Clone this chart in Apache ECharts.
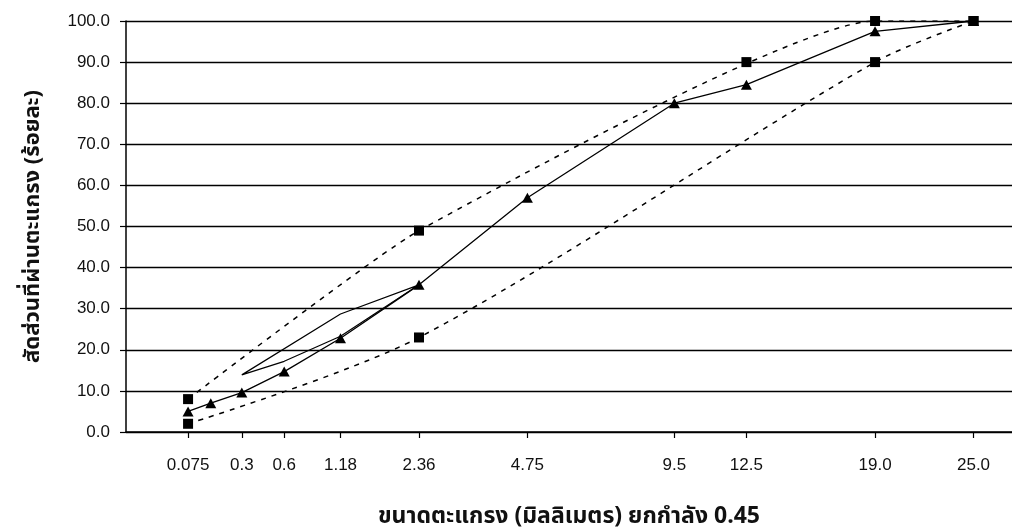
<!DOCTYPE html>
<html>
<head>
<meta charset="utf-8">
<script src="https://cdn.jsdelivr.net/npm/echarts@6/dist/echarts.min.js"></script>
<style>
html,body{margin:0;padding:0;background:#fff;}
#chart{width:1012px;height:531px;}
</style>
</head>
<body>
<div id="chart"></div>
<script>
// x axis: sieve size (mm) raised to the power 0.45
const POWER = 0.45;
const tickSizes  = [0.075, 0.3, 0.6, 1.18, 2.36, 4.75, 9.5, 12.5, 19, 25];
const tickLabels = ['0.075', '0.3', '0.6', '1.18', '2.36', '4.75', '9.5', '12.5', '19.0', '25.0'];

// gradation (solid line, triangles)
const gradSizes   = [0.075, 0.15, 0.3, 0.6, 1.18, 2.36, 4.75, 9.5, 12.5, 19, 25];
const gradPassing = [5, 7, 9.6, 14.7, 22.8, 35.8, 57, 80, 84.5, 97.5, 100];

// extra solid loop segment
const loopSizes   = [2.36, 1.18, 0.3, 0.6, 1.18, 2.36];
const loopPassing = [35.8, 28.7, 13.9, 17.2, 23.3, 35.8];

// control points (squares)
const upperCtrlSizes  = [0.075, 2.36, 12.5, 19, 25];
const upperCtrlValues = [8, 49, 90, 100, 100];
const lowerCtrlSizes  = [0.075, 2.36, 19, 25];
const lowerCtrlValues = [2, 23, 90, 100];

// dashed limit curves
const upperLimitSizes  = [0.075, 2.36, 19, 25];
const upperLimitValues = [8, 49, 100, 100];
const lowerLimitSizes  = [0.075, 2.36, 19, 25];
const lowerLimitValues = [2, 23, 90, 100];

const p = s => Math.pow(s, POWER);
const pair = (xs, ys) => xs.map((x, i) => [p(x), ys[i]]);
const tickPos = tickSizes.map(p);

const FONT = 'Liberation Sans, Arial, sans-serif';
const THAI = 'Noto Sans Thai, Loma, Garuda, Norasi, Tlwg Typo, sans-serif';

const chart = echarts.init(document.getElementById('chart'), null, {renderer: 'canvas'});
chart.setOption({
  animation: false,
  backgroundColor: '#ffffff',
  grid: {left: 126, right: 0, top: 21, bottom: 99, outerBoundsMode: 'none', containLabel: false},
  xAxis: {
    type: 'value',
    min: 0,
    max: 4.45,
    name: 'ขนาดตะแกรง (มิลลิเมตร) ยกกำลัง 0.45',
    nameLocation: 'middle',
    nameGap: 75,
    nameTextStyle: {fontFamily: THAI, fontWeight: 'bold', fontSize: 23, color: '#111'},
    axisLine: {lineStyle: {color: '#000', width: 1.5}},
    axisTick: {show: true, length: 6, lineStyle: {color: '#000', width: 1.2}, customValues: tickPos},
    axisLabel: {
      customValues: tickPos,
      margin: 25,
      fontSize: 17,
      fontFamily: FONT,
      color: '#111',
      formatter: v => {
        for (let i = 0; i < tickPos.length; i++) {
          if (Math.abs(tickPos[i] - v) < 1e-6) return tickLabels[i];
        }
        return '';
      }
    },
    splitLine: {show: false}
  },
  yAxis: {
    type: 'value',
    min: 0,
    max: 100,
    interval: 10,
    name: 'สัดส่วนที่ผ่านตะแกรง (ร้อยละ)',
    nameLocation: 'middle',
    nameGap: 80,
    nameRotate: 90,
    nameTextStyle: {fontFamily: THAI, fontWeight: 'bold', fontSize: 22, color: '#111'},
    axisLine: {show: true, lineStyle: {color: '#000', width: 1.5}},
    axisTick: {show: true, length: 6, lineStyle: {color: '#000', width: 1.2}},
    axisLabel: {
      margin: 16,
      fontSize: 17,
      fontFamily: FONT,
      color: '#111',
      formatter: v => v.toFixed(1)
    },
    splitLine: {show: true, lineStyle: {color: '#000', width: 1.4}}
  },
  series: [
    {
      type: 'line',
      data: pair(upperLimitSizes, upperLimitValues),
      smooth: 0.16,
      symbol: 'none',
      lineStyle: {color: '#000', width: 1.5, type: [5, 6]},
      z: 2
    },
    {
      type: 'line',
      data: pair(lowerLimitSizes, lowerLimitValues),
      smooth: 0.3,
      symbol: 'none',
      lineStyle: {color: '#000', width: 1.5, type: [5, 6]},
      z: 2
    },
    {
      type: 'line',
      data: pair(loopSizes, loopPassing),
      symbol: 'none',
      lineStyle: {color: '#000', width: 1.2},
      z: 3
    },
    {
      type: 'line',
      data: pair(gradSizes, gradPassing),
      symbol: 'triangle',
      symbolSize: [11, 10],
      itemStyle: {color: '#000', opacity: 1},
      lineStyle: {color: '#000', width: 1.3},
      z: 4
    },
    {
      type: 'scatter',
      data: pair(upperCtrlSizes, upperCtrlValues),
      symbol: 'rect',
      symbolSize: 10,
      itemStyle: {color: '#000', opacity: 1},
      z: 5
    },
    {
      type: 'scatter',
      data: pair(lowerCtrlSizes, lowerCtrlValues),
      symbol: 'rect',
      symbolSize: 10,
      itemStyle: {color: '#000', opacity: 1},
      z: 5
    }
  ]
});
</script>
</body>
</html>
